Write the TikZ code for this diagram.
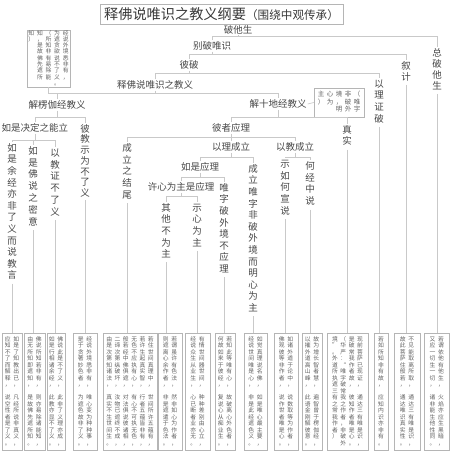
\documentclass[tikz,border=0pt]{standalone}
\usepackage{fontspec}
\setmainfont{Noto Sans CJK SC}
\usetikzlibrary{positioning}

\definecolor{linegray}{HTML}{C9C9C9}
\definecolor{boxgray}{HTML}{B5B5B5}
\definecolor{inkgray}{HTML}{474747}
\definecolor{notegray}{HTML}{606060}

% one column of upright characters, read from top to bottom
\ExplSyntaxOn
\NewDocumentCommand \vcol { O{0.7pt} m }
  {
    \vtop
      {
        \offinterlineskip
        \tl_map_inline:nn {#2}
          {
            \hbox_to_wd:nn {1em} { \hss \vrule height 0.85em depth 0.15em width 0pt ##1 \hss }
            \kern #1
          }
      }
  }
\ExplSyntaxOff
% two columns, the first one on the right
\newcommand{\versepair}[2]{\vcol{#2}\hskip2.5pt\vcol{#1}}

\begin{document}
\begin{tikzpicture}[x=1pt, y=-1pt,
    lbl/.style={inner sep=1pt, text=inkgray, font=\fontsize{9.5}{9.5}\selectfont},
    vlbl/.style={lbl, anchor=north},
    link/.style={draw=linegray, line width=0.7pt},
    notebox/.style={draw=boxgray, line width=0.5pt, inner sep=0pt, text=notegray, font=\fontsize{5.8}{5.8}\selectfont},
    verse/.style={notebox, minimum height=117pt}]
        \useasboundingbox (0,0) rectangle (450,454);

        % title
        \node[draw=boxgray, line width=0.5pt, inner sep=0pt, minimum width=243pt, minimum height=20pt, text=inkgray!80!black] (T) at (221.5,14)
            {{\fontsize{14.2}{14.2}\selectfont 释佛说唯识之教义纲要}{\fontsize{11.6}{11.6}\selectfont （围绕中观传承）}};

        % nodes
        \node[lbl] (ptsh) at (238,29.5) {破他生};
        \node[lbl] (bpws) at (212,46) {别破唯识};
        \node[lbl] (bp) at (189,65) {彼破};
        \node[lbl] (sfs) at (155,85) {释佛说唯识之教义};
        \node[lbl] (jlq) at (57,105) {解楞伽经教义};
        \node[lbl] (jsd) at (278,104) {解十地经教义};
        \node[lbl] (rjd) at (35,128) {如是决定之能立};
        \node[lbl] (bzy) at (231,128) {彼者应理};
        \node[lbl] (lcl) at (231,147) {以理成立};
        \node[lbl] (jcl) at (295,147) {以教成立};
        \node[lbl] (rsy) at (200,167) {如是应理};
        \node[lbl] (xxw) at (181,187) {许心为主是应理};

        \node[vlbl] (zpts) at (437,47) {\vcol[1.6pt]{总破他生}};
        \node[vlbl] (xj) at (406,60) {\vcol[1.6pt]{叙计}};
        \node[vlbl] (lzp) at (379,78) {\vcol[2.1pt]{以理证破}};
        \node[vlbl] (zs) at (347,124) {\vcol[2.1pt]{真实}};
        \node[vlbl] (bjs) at (85,123) {\vcol[1.2pt]{彼教示为不了义}};
        \node[vlbl] (L1) at (12,142) {\vcol[2.1pt]{如是余经亦非了义而说教言}};
        \node[vlbl] (L2) at (33,145) {\vcol[2.3pt]{如是佛说之密意}};
        \node[vlbl] (L3) at (55,147) {\vcol[2.3pt]{以教证不了义}};
        \node[vlbl] (czj) at (127,142) {\vcol[2.3pt]{成立之结尾}};
        \node[vlbl] (qt) at (166,202) {\vcol[2.1pt]{其他不为主}};
        \node[vlbl] (sx) at (197,202) {\vcol[2.1pt]{示心为主}};
        \node[vlbl] (wz) at (224,182) {\vcol[2.1pt]{唯字破外境不应理}};
        \node[vlbl] (cl) at (253,163) {\vcol[2.1pt]{成立唯字非破外境而明心为主}};
        \node[vlbl] (sr) at (285,158) {\vcol[2.3pt]{示如何宣说}};
        \node[vlbl] (hj) at (310,160) {\vcol[2.3pt]{何经中说}};

        % small notes
        \node[notebox, minimum width=43pt, minimum height=57pt] (nt1) at (48.5,58.5)
            {\vcol[0.5pt]{知）}\hskip2.8pt\vcol[0.5pt]{知，是故佛先遮所}\hskip2.8pt\vcol[0.5pt]{（所知非有易除能}\hskip2.8pt\vcol[0.5pt]{为遮贪欲说不了义。}\hskip2.8pt\vcol[0.5pt]{经说外境悉非有，}};
        \node[notebox, minimum width=50pt, minimum height=29pt, font=\fontsize{6.5}{6.5}\selectfont] (nt2) at (339,102.5)
            {\vcol[1.2pt]{主）}\hskip2.5pt\vcol[1.2pt]{心为}\hskip2.5pt\vcol[1.2pt]{境，明}\hskip2.5pt\vcol[1.2pt]{非破外}\hskip2.5pt\vcol[1.2pt]{（唯字}};

        % verses at the bottom
        \node[verse, minimum width=20pt] (B1) at (12,391.5) {\versepair{如是了知教出已，　凡经所说非真义，}{应知不了而解释，　说空性者是了义。}};
        \node[verse, minimum width=21pt] (B2) at (34.5,391.5) {\versepair{佛说所知若非有，　则亦易除诸能知，}{由无所知即遮知，　是故佛先遮所知。}};
        \node[verse, minimum width=18pt] (B3) at (56,391.5) {\versepair{佛说此是不了义，　此非了义理亦成，}{如是行相诸余经，　此教亦显不了义。}};
        \node[verse, minimum width=24pt] (B4) at (85,391.5) {\versepair{经说外境悉非有，　唯心变为种种事，}{是于贪著妙色者，　为遮色故非了义。}};
        \node[verse, minimum width=54pt] (B5) at (130,391.5)
            {\versepair{二谛次第纵破坏，　汝物已遮终不成，}{由是次第知诸法，　真实不生世间生。}\hskip2.5pt\versepair{无色不应执有心，　有心不可执无色，}{般若经中佛俱遮，　对法俱说彼诸相，}\hskip2.5pt\versepair{若住世间真理中，　世间所许五蕴有，}{若许生起真实智，　行者五蕴皆非有，}};
        \node[verse, minimum width=24pt] (B6) at (170,391.5) {\versepair{若谓虽许有色法，　然非如心为作者，}{则遮离心余作者，　非是遮遣于色法。}};
        \node[verse, minimum width=25pt] (B7) at (197.5,391.5) {\versepair{有情世间器世间，　种种差别由心立，}{经说众生从业生，　心已断者业亦无。}};
        \node[verse, minimum width=20pt] (B8) at (225,391.5) {\versepair{若知此等唯有心，　故破离心外色者，}{何故如来于彼经，　复说心从痴业生。}};
        \node[verse, minimum width=23pt] (B9) at (255.5,391.5) {\versepair{如觉真理说名佛，　如是唯心最主要，}{经说世间唯是心，　非是此经遮色义。}};
        \node[verse, minimum width=24pt] (B10) at (286,391.5) {\versepair{如诸外道于论中，　说数取等为作者，}{佛观彼等非作者，　说作世者唯是心。}};
        \node[verse, minimum width=20pt] (B11) at (312,391.5) {\versepair{故为增长智者慧，　遍智曾于楞伽经，}{以摧外道高山峰，　此语金刚解彼意。}};
        \node[verse, minimum width=41pt] (B12) at (347.5,391.5)
            {\versepair{（华严：“唯字破常我之作者，非破外}{境”。外道所执遮三有之常我作者）}\hskip2.5pt\versepair{现前菩萨已现证，　通达三有唯是识，}{是破常我作者故，　彼知作者唯是心。}};
        \node[verse, minimum width=14pt] (B13) at (381,391.5) {\vcol{若如所知非有故，　应知内识亦非有。}};
        \node[verse, minimum width=26pt] (B14) at (407,391.5) {\versepair{不见能取离所取，　通达三有唯是识，}{故此菩萨住般若，　通达唯识真实性。}};
        \node[verse, minimum width=25.5pt] (B15) at (436.75,391.5) {\versepair{若谓依他有他生，　火焰亦应生黑暗，}{又应一切生一切，　诸非能生他性同。}};

        % edges
        \coordinate (b1) at (0,36);
        \coordinate (b2) at (0,54);
        \coordinate (b3) at (0,73);
        \coordinate (b4) at (0,93);
        \coordinate (b5) at (0,117);
        \coordinate (b6) at (0,117);
        \coordinate (b7) at (0,140);
        \coordinate (b8) at (0,137);
        \coordinate (b9) at (0,157);
        \coordinate (b10) at (0,157);
        \coordinate (b11) at (0,177);
        \coordinate (b12) at (0,196);

        \draw[link] (ptsh.south) -- (ptsh.south |- b1);
        \draw[link] (bpws.north) |- (zpts.north |- b1) -- (zpts.north);
        \draw[link] (bpws.south) -- (bpws.south |- b2);
        \draw[link] (bp.north) |- (xj.north |- b2) -- (xj.north);
        \draw[link] (bp.south) -- (bp.south |- b3);
        \draw[link] (sfs.north) |- (lzp.north |- b3) -- (lzp.north);
        \draw[link] (sfs.south) -- (sfs.south |- b4);
        \draw[link] (nt1.south) |- (jsd.north |- b4) -- (jsd.north);
        \draw[link] (jlq.north) -- (jlq.north |- b4);
        \draw[link] (jsd.east) -- (nt2.west);

        \draw[link] (jlq.south) -- (jlq.south |- b5);
        \draw[link] (rjd.north) |- (bjs.north |- b5) -- (bjs.north);
        \draw[link] (jsd.south) -- (jsd.south |- b6);
        \draw[link] (bzy.north) |- (zs.north |- b6) -- (zs.north);
        \draw[link] (rjd.south) -- (rjd.south |- b7);
        \draw[link] (L1.north) |- (L3.north |- b7) -- (L3.north);
        \draw[link] (L2.north) -- (L2.north |- b7);
        \draw[link] (bzy.south) -- (bzy.south |- b8);
        \draw[link] (czj.north) |- (jcl.north |- b8) -- (jcl.north);
        \draw[link] (lcl.north) -- (lcl.north |- b8);
        \draw[link] (lcl.south) -- (lcl.south |- b9);
        \draw[link] (rsy.north) |- (cl.north |- b9) -- (cl.north);
        \draw[link] (jcl.south) -- (jcl.south |- b10);
        \draw[link] (sr.north) |- (hj.north |- b10) -- (hj.north);
        \draw[link] (rsy.south) -- (rsy.south |- b11);
        \draw[link] (xxw.north) |- (wz.north |- b11) -- (wz.north);
        \draw[link] (xxw.south) -- (xxw.south |- b12);
        \draw[link] (qt.north) |- (sx.north |- b12) -- (sx.north);

        % leaves down to their verses
        \foreach \l/\b in {L1/B1, L2/B2, L3/B3, bjs/B4, czj/B5, qt/B6, sx/B7, wz/B8, cl/B9, sr/B10, hj/B11, zs/B12, lzp/B13, xj/B14, zpts/B15}
            \draw[link] (\l.south) -- (\l.south |- \b.north);

    \end{tikzpicture}
\end{document}
